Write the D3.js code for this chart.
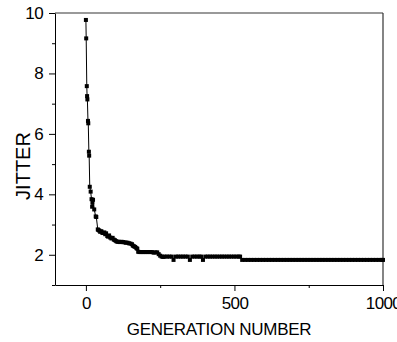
<!DOCTYPE html>
<html>
<head>
<meta charset="utf-8">
<script src="https://cdn.jsdelivr.net/npm/d3@7"></script>
<style>
  body { margin: 0; background: #fff; }
  svg { display: block; font-family: "Liberation Sans", Arial, sans-serif; }
</style>
</head>
<body>
<svg id="chart" width="397" height="342"></svg>
<script>
// Generation number of each recorded point.
const generation = [
  0, 1, 3, 4, 5, 7, 8, 10, 11, 13, 16, 19, 21, 22, 24, 28, 33, 35,
  40, 42, 45, 48, 52, 55, 58, 62, 65, 68, 72, 75, 78, 82, 86, 90, 94, 98,
  102, 106, 110, 115, 120, 125, 130, 135, 140, 145, 150, 155, 158, 162,
  166, 170, 173, 176, 180, 186, 192, 198, 204, 210, 216, 222, 228, 234,
  240, 245, 250, 255, 260,
  265, 273, 281, 289, 295, 303, 311, 319, 327, 335, 343, 350, 358, 366,
  374, 382, 388, 394, 402, 410, 418, 426, 434, 442, 450, 458, 466, 474,
  482, 490, 498, 506, 514, 519,
  526, 536, 546, 556, 566, 576, 586, 596, 606, 616, 626, 636, 646, 656,
  666, 676, 686, 696, 706, 716, 726, 736, 746, 756, 766, 776, 786, 796,
  806, 816, 826, 836, 846, 856, 866, 876, 886, 896, 906, 916, 926, 936,
  946, 956, 966, 976, 986, 996, 1000
];

// Jitter, one per generation above.
const jitter = [
  9.77, 9.16, 7.58, 7.25, 7.14, 6.43, 6.35, 5.41, 5.28, 4.25, 4.09, 3.84,
  3.59, 3.73, 3.82, 3.50, 3.27, 3.25,
  2.84, 2.82, 2.80, 2.76, 2.78, 2.73, 2.72, 2.74, 2.68, 2.71, 2.62, 2.60,
  2.64, 2.57, 2.54, 2.56, 2.50, 2.48,
  2.45, 2.43, 2.43, 2.42, 2.43, 2.42, 2.41, 2.40, 2.40, 2.38, 2.37, 2.35,
  2.30, 2.28, 2.26, 2.22, 2.20, 2.10, 2.09, 2.09, 2.09, 2.09, 2.09, 2.09,
  2.09, 2.09, 2.07, 2.08, 2.08, 2.02, 1.97, 1.94, 1.93,
  1.94, 1.94, 1.94, 1.94, 1.83, 1.94, 1.94, 1.94, 1.94, 1.94, 1.94, 1.83,
  1.94, 1.94, 1.94, 1.94, 1.94, 1.83, 1.94, 1.94, 1.94, 1.94, 1.94, 1.94,
  1.94, 1.94, 1.94, 1.94, 1.94, 1.94, 1.94, 1.94, 1.94, 1.94,
  1.83, 1.83, 1.83, 1.83, 1.83, 1.83, 1.83, 1.83, 1.83, 1.83, 1.83, 1.83,
  1.83, 1.83, 1.83, 1.83, 1.83, 1.83, 1.83, 1.83, 1.83, 1.83, 1.83, 1.83,
  1.83, 1.83, 1.83, 1.83, 1.83, 1.83, 1.83, 1.83, 1.83, 1.83, 1.83, 1.83,
  1.83, 1.83, 1.83, 1.83, 1.83, 1.83, 1.83, 1.83, 1.83, 1.83, 1.83, 1.83,
  1.83
];

const xMajorTicks = [0, 500, 1000];
const xMinorTicks = [250, 750];
const yMajorTicks = [2, 4, 6, 8, 10];
const yMinorTicks = [1, 3, 5, 7, 9];

const svg = d3.select("#chart");
const plotLeft = 55, plotRight = 383, plotTop = 13, plotBottom = 285;

const x = d3.scaleLinear().domain([-104, 1000]).range([plotLeft, plotRight]);
const y = d3.scaleLinear().domain([1, 10]).range([plotBottom, plotTop]);

// Frame: top and right edges of the plot box.
svg.append("line")
  .attr("x1", plotLeft).attr("x2", plotRight).attr("y1", plotTop).attr("y2", plotTop)
  .attr("stroke", "#777").attr("stroke-width", 1.5);
svg.append("line")
  .attr("x1", plotRight).attr("x2", plotRight).attr("y1", plotTop).attr("y2", plotBottom)
  .attr("stroke", "#333").attr("stroke-width", 1.2);

// Minor ticks first, so the labelled axes sit on top.
svg.append("g")
  .attr("transform", `translate(0,${plotBottom})`)
  .call(d3.axisBottom(x).tickValues(xMinorTicks).tickSize(3).tickFormat(""))
  .call(g => g.select(".domain").remove());
svg.append("g")
  .attr("transform", `translate(${plotLeft},0)`)
  .call(d3.axisLeft(y).tickValues(yMinorTicks).tickSize(3).tickFormat(""))
  .call(g => g.select(".domain").remove());

const xAxis = svg.append("g")
  .attr("transform", `translate(0,${plotBottom})`)
  .call(d3.axisBottom(x).tickValues(xMajorTicks).tickFormat(d3.format("d"))
    .tickSize(6).tickSizeOuter(0).tickPadding(6));
const yAxis = svg.append("g")
  .attr("transform", `translate(${plotLeft},0)`)
  .call(d3.axisLeft(y).tickValues(yMajorTicks).tickFormat(d3.format("d"))
    .tickSize(6).tickSizeOuter(0).tickPadding(6));

for (const ax of [xAxis, yAxis]) {
  ax.selectAll("text")
    .attr("font-size", 17)
    .attr("font-family", "Liberation Sans, Arial, sans-serif")
    .attr("letter-spacing", "-0.6px")
    .attr("fill", "#000");
  ax.selectAll("line, path").attr("stroke", "#000");
}

// The series: thin line joining small square markers.
const points = generation.map((g, i) => [g, jitter[i]]);

svg.append("path")
  .datum(points)
  .attr("fill", "none")
  .attr("stroke", "#000")
  .attr("stroke-width", 1)
  .attr("d", d3.line().x(d => x(d[0])).y(d => y(d[1])));

const m = 4;
svg.append("g")
  .selectAll("rect")
  .data(points)
  .join("rect")
  .attr("x", d => x(d[0]) - m / 2)
  .attr("y", d => y(d[1]) - m / 2)
  .attr("width", m)
  .attr("height", m)
  .attr("fill", "#000");

// Axis titles.
svg.append("text")
  .attr("x", (plotLeft + plotRight) / 2)
  .attr("y", 335)
  .attr("text-anchor", "middle")
  .attr("font-size", 17)
  .attr("letter-spacing", "-0.3px")
  .text("GENERATION NUMBER");

svg.append("text")
  .attr("transform", "translate(29.5,166) rotate(-90)")
  .attr("text-anchor", "middle")
  .attr("font-size", 20)
  .text("JITTER");
</script>
</body>
</html>
